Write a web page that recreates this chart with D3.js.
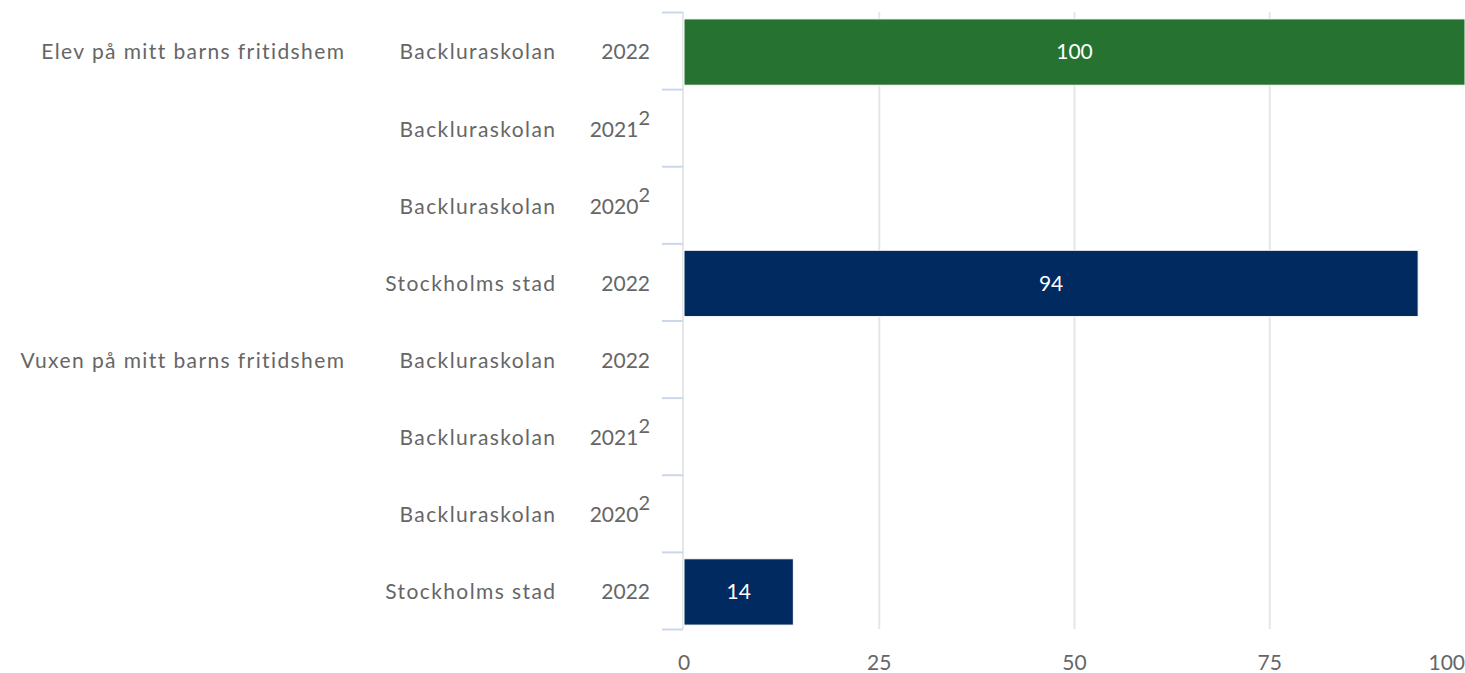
<!DOCTYPE html>
<html>
<head>
<meta charset="utf-8">
<script src="https://cdn.jsdelivr.net/npm/d3@7"></script>
<style>
  body { margin: 0; background: #fff; }
  text { font-family: Lato, "Open Sans", sans-serif; }
</style>
</head>
<body>
<div id="chart"></div>
<script>
// data
const groups = ['Elev på mitt barns fritidshem', 'Vuxen på mitt barns fritidshem'];
const units = ['Backluraskolan', 'Backluraskolan', 'Backluraskolan', 'Stockholms stad'];
const years = ['2022', '2021', '2020', '2022'];
const notes = ['', '2', '2', ''];
const elevValues = [100, null, null, 94];
const vuxenValues = [null, null, null, 14];
const xTicks = [0, 25, 50, 75, 100];

const barColors = ['#267230', '#267230', '#267230', '#002a60'];

const rows = [];
groups.forEach((g, gi) => {
  const vals = gi === 0 ? elevValues : vuxenValues;
  units.forEach((u, i) => {
    rows.push({ id: gi + '-' + i, group: g, first: i === 0, unit: u, year: years[i], note: notes[i], value: vals[i], color: barColors[i] });
  });
});

const W = 1465, H = 673;
const svg = d3.select('#chart').append('svg')
    .attr('width', W)
    .attr('height', H);

const x = d3.scaleLinear()
    .domain([0, 100])
    .range([684, 1465]);

const y = d3.scaleBand()
    .domain(rows.map(d => d.id))
    .range([12.5, 629.5])
    .paddingInner(0.14)
    .paddingOuter(0.07);

// grid
svg.append('g')
    .selectAll('line')
    .data(xTicks.filter(d => d > 0 && d < 100))
    .join('line')
    .attr('x1', d => x(d)).attr('x2', d => x(d))
    .attr('y1', 12).attr('y2', 629)
    .attr('stroke', '#e6e6e6')
    .attr('stroke-width', 2);

// axis line at 0
svg.append('line')
    .attr('x1', x(0) - 1).attr('x2', x(0) - 1)
    .attr('y1', 12).attr('y2', 629)
    .attr('stroke', '#e6e6e6')
    .attr('stroke-width', 2);

// category tick marks on the row borders
const bounds = d3.range(rows.length + 1).map(i => y.range()[0] + i * (y.range()[1] - y.range()[0]) / rows.length);
svg.append('g')
    .selectAll('line')
    .data(bounds)
    .join('line')
    .attr('x1', 662).attr('x2', 683)
    .attr('y1', d => d).attr('y2', d => d)
    .attr('stroke', '#ccd6eb')
    .attr('stroke-width', 2);

// bars
const bars = rows.filter(d => d.value != null);
svg.append('g')
    .selectAll('rect')
    .data(bars)
    .join('rect')
    .attr('x', x(0))
    .attr('y', d => y(d.id) + 1)
    .attr('width', d => x(d.value) - x(0))
    .attr('height', y.bandwidth())
    .attr('fill', d => d.color)
    .attr('stroke', '#fff')
    .attr('stroke-width', 1);

svg.append('g')
    .selectAll('text')
    .data(bars)
    .join('text')
    .attr('x', d => (x(0) + x(d.value)) / 2)
    .attr('y', d => y(d.id) + 1 + y.bandwidth() / 2)
    .attr('dy', '0.35em')
    .attr('text-anchor', 'middle')
    .attr('fill', '#fff')
    .attr('font-size', 21)
    .text(d => d.value);

// labels
const lab = svg.append('g')
    .attr('fill', '#666')
    .attr('font-size', 21);

const cy = d => y(d.id) + y.bandwidth() / 2 + 1;

const yr = lab.selectAll('.yr')
    .data(rows)
    .join('text')
    .attr('class', 'yr')
    .attr('x', 650)
    .attr('y', d => cy(d))
    .attr('dy', '0.35em')
    .attr('text-anchor', 'end');
yr.append('tspan').text(d => d.year);
yr.filter(d => d.note).append('tspan')
    .attr('dy', '-0.6em')
    .attr('font-size', 20)
    .text(d => d.note);

lab.selectAll('.unit')
    .data(rows)
    .join('text')
    .attr('class', 'unit')
    .attr('x', 556.4)
    .attr('y', d => cy(d))
    .attr('dy', '0.35em')
    .attr('letter-spacing', 1.4)
    .attr('text-anchor', 'end')
    .text(d => d.unit);

lab.selectAll('.grp')
    .data(rows.filter(d => d.first))
    .join('text')
    .attr('class', 'grp')
    .attr('x', 345.4)
    .attr('y', d => cy(d))
    .attr('dy', '0.35em')
    .attr('letter-spacing', 1.4)
    .attr('text-anchor', 'end')
    .text(d => d.group);

// x axis labels
svg.append('g')
    .attr('fill', '#666')
    .attr('font-size', 21)
    .selectAll('text')
    .data(xTicks)
    .join('text')
    .attr('x', d => d === 100 ? W : x(d))
    .attr('y', 670)
    .attr('text-anchor', d => d === 100 ? 'end' : 'middle')
    .text(d => d);
</script>
</body>
</html>
